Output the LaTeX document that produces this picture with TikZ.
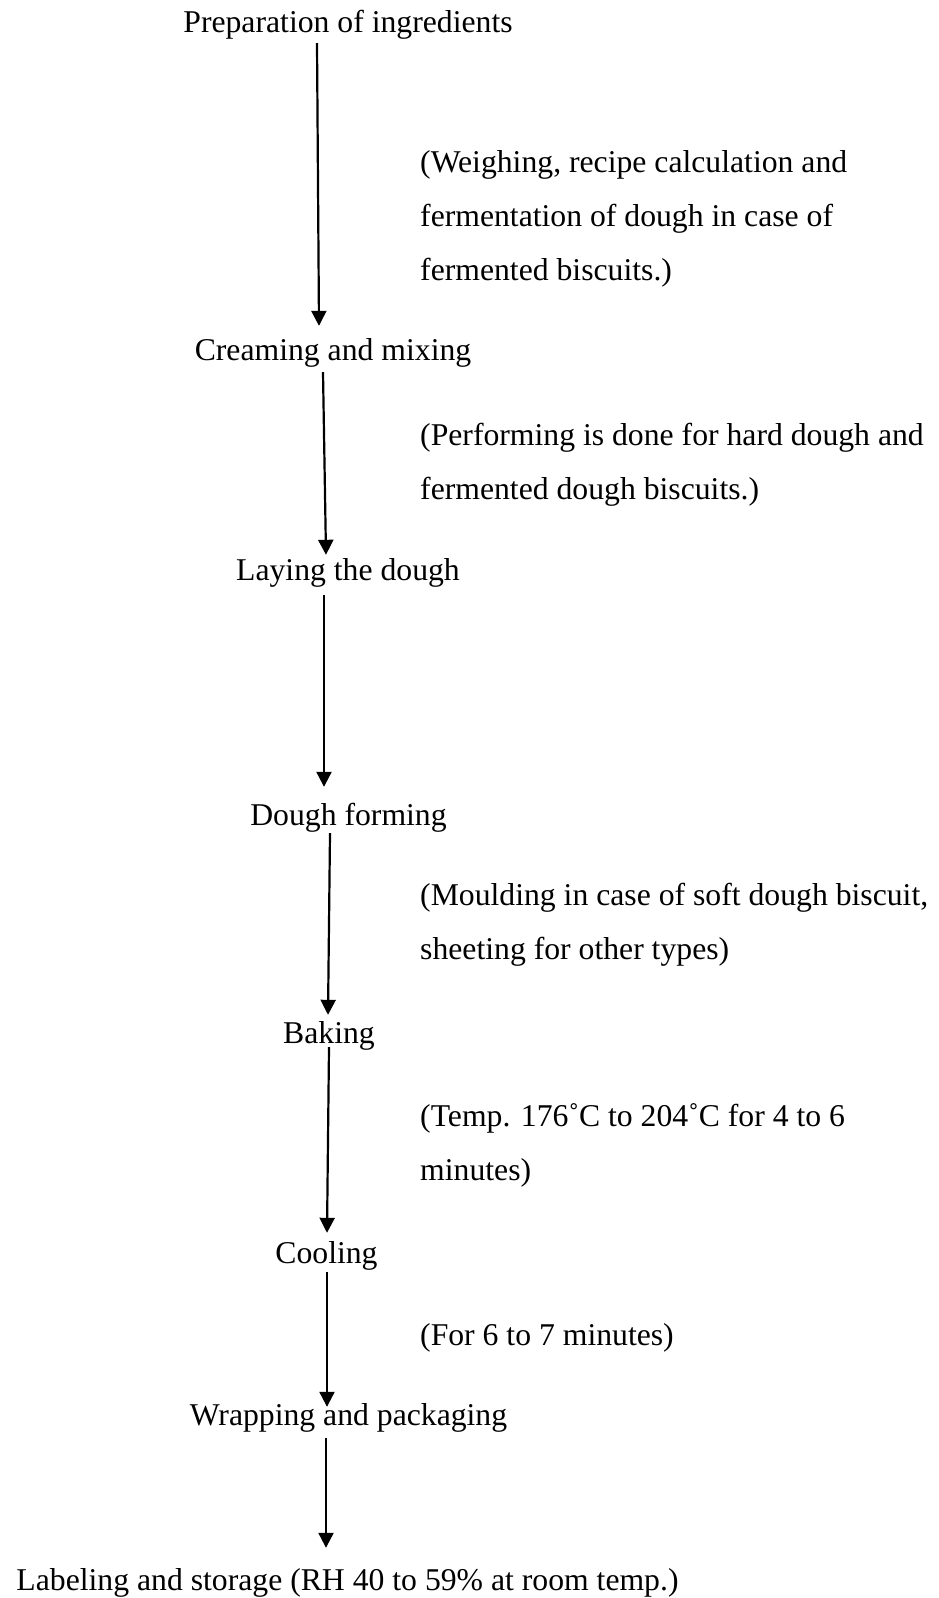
\documentclass[tikz,border=0pt]{standalone}
\usepackage{fontspec}
\setmainfont{Liberation Serif}
\usetikzlibrary{arrows.meta}

\tikzset{
    stage/.style={inner sep=0pt, text height=22pt, text depth=7pt, anchor=base,
        font=\fontsize{31.7}{54}\selectfont},
    remark/.style={inner sep=0pt, anchor=north west, align=left,
        font=\fontsize{31.7}{54}\selectfont},
    flow/.style={line width=2.2pt, -{Triangle[length=15pt,width=15pt]}}
}

\begin{document}
\begin{tikzpicture}[x=1pt, y=-1pt]
        \useasboundingbox (0,0) rectangle (939,1598);
        %\draw[step=50,gray,very thin] (0,0) grid (939,1598);

        % Steps.
        \node[stage] (prep) at (348,32) {Preparation of ingredients};
        \node[stage] (cream) at (333,360) {Creaming and mixing};
        \node[stage] (lay) at (348,580) {Laying the dough};
        \node[stage] (form) at (348.5,825) {Dough forming};
        \node[stage] (bake) at (329,1043) {Baking};
        \node[stage] (cool) at (326.5,1263) {Cooling};
        \node[stage] (wrap) at (348.5,1425) {Wrapping and packaging};
        \node[stage] (store) at (347.5,1590) {Labeling and storage (RH 40 to 59\% at room temp.)};

        % Remarks.
        \node[remark] (weigh) at (420,150) {(Weighing, recipe calculation and\\fermentation of dough in case of\\fermented biscuits.)};
        \node[remark] (perform) at (420,423) {(Performing is done for hard dough and\\fermented dough biscuits.)};
        \node[remark] (mould) at (420,883) {(Moulding in case of soft dough biscuit,\\sheeting for other types)};
        \node[remark] (temp) at (420,1103) {(Temp. 176˚C to 204˚C for 4 to 6\\minutes)};
        \node[remark] (time) at (420,1323) {(For 6 to 7 minutes)};

        % Arrows.
        \draw[flow] ([xshift=-31pt,yshift=-4pt]prep.south) -- ([xshift=-14pt,yshift=12pt]cream.north);
        \draw[flow] ([xshift=-10pt,yshift=-5pt]cream.south) -- ([xshift=-22pt,yshift=3pt]lay.north);
        \draw[flow] ([xshift=-24pt,yshift=-8pt]lay.south) -- ([xshift=-24.5pt,yshift=16pt]form.north);
        \draw[flow] ([xshift=-18.5pt,yshift=-1pt]form.south) -- ([xshift=-1pt,yshift=6pt]bake.north);
        \draw[flow] ([yshift=3pt]bake.south) -- ([xshift=0.5pt,yshift=8pt]cool.north);
        \draw[flow] ([xshift=0.5pt,yshift=-2pt]cool.south) -- ([xshift=-21.5pt,yshift=-4pt]wrap.north);
        \draw[flow] ([xshift=-22.5pt,yshift=-6pt]wrap.south) -- ([xshift=-21.5pt,yshift=20pt]store.north);

    \end{tikzpicture}
\end{document}
